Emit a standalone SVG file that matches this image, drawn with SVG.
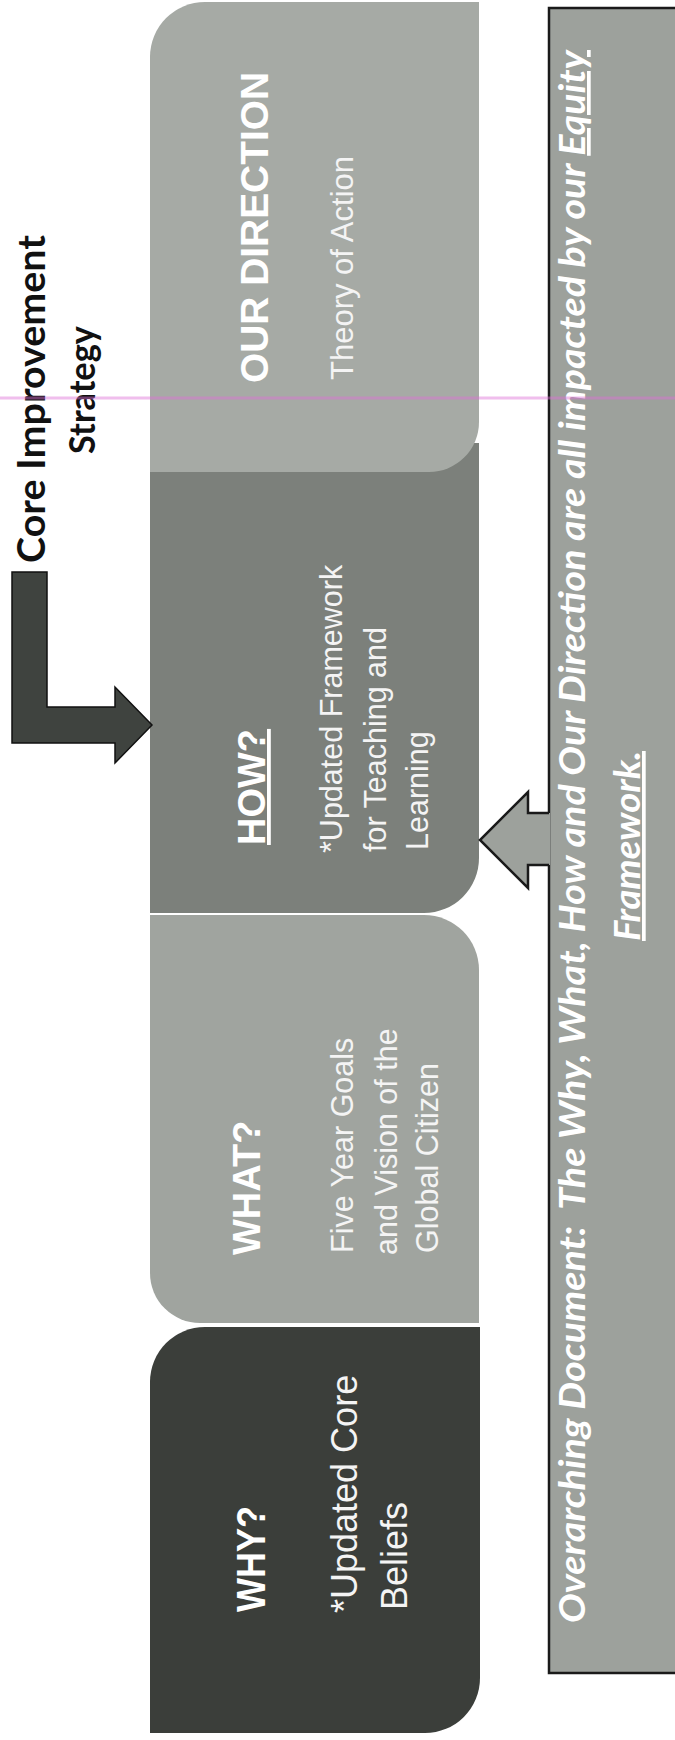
<svg xmlns="http://www.w3.org/2000/svg" width="675" height="1740" viewBox="0 0 675 1740">
<style>
.head{font-family:"Liberation Sans",Arial,sans-serif;font-weight:bold;fill:#ffffff}
.body{font-family:"Liberation Sans",Arial,sans-serif;fill:#f4f4f4}
.cal{font-family:Lato,"Open Sans",sans-serif;font-weight:bold;fill:#111111}
.over{font-family:Lato,"Open Sans",sans-serif;font-weight:bold;font-style:italic;fill:#ffffff;font-size:37px}
.ul{text-decoration:underline}
</style>
<rect x="0" y="0" width="675" height="1740" fill="#ffffff"/>

<g id="node-overarching">
  <rect x="549" y="8" width="140" height="1665" fill="#9da19c" stroke="#1a1a1a" stroke-width="2.5"/>
  <text class="over" transform="translate(585,1623) rotate(-90)" textLength="1573" lengthAdjust="spacingAndGlyphs">Overarching Document:&#160; The Why, What, How and Our Direction are all impacted by our <tspan class="ul">Equity</tspan></text>
  <text class="over ul" transform="translate(640,846) rotate(-90)" text-anchor="middle" textLength="190" lengthAdjust="spacingAndGlyphs">Framework.</text>
</g>

<g id="node-how">
  <path d="M150,443 H479 V858 A55,55 0 0 1 424,913 H150 Z" fill="#7c807b"/>
  <text class="head ul" font-size="38" transform="translate(265,845) rotate(-90)">HOW?</text>
  <text class="body" font-size="30.5" transform="translate(342,853) rotate(-90)">*Updated Framework</text>
  <text class="body" font-size="30.5" transform="translate(386,852) rotate(-90)">for Teaching and</text>
  <text class="body" font-size="30.5" transform="translate(428,850) rotate(-90)">Learning</text>
</g>

<g id="node-our-direction">
  <path d="M150,57 A55,55 0 0 1 205,2 H479 V422 A50,50 0 0 1 429,472 H150 Z" fill="#a6aaa5"/>
  <text class="head" font-size="38" transform="translate(268,383) rotate(-90)" textLength="311" lengthAdjust="spacingAndGlyphs">OUR DIRECTION</text>
  <text class="body" font-size="31" transform="translate(353,380) rotate(-90)">Theory of Action</text>
</g>

<g id="node-what">
  <path d="M150,915 H424 A55,55 0 0 1 479,970 V1323 H200 A50,50 0 0 1 150,1273 Z" fill="#a0a49f"/>
  <text class="head" font-size="38" transform="translate(260,1255) rotate(-90)">WHAT?</text>
  <text class="body" font-size="30.5" transform="translate(353,1253) rotate(-90)">Five Year Goals</text>
  <text class="body" font-size="30.5" transform="translate(397,1255) rotate(-90)">and Vision of the</text>
  <text class="body" font-size="30.5" transform="translate(438,1253) rotate(-90)">Global Citizen</text>
</g>

<g id="node-why">
  <path d="M150,1382 A55,55 0 0 1 205,1327 H480 V1678 A55,55 0 0 1 425,1733 H150 Z" fill="#3b3e3a"/>
  <text class="head" font-size="40" transform="translate(265,1612) rotate(-90)" textLength="106" lengthAdjust="spacingAndGlyphs">WHY?</text>
  <text class="body" font-size="36" transform="translate(357,1613) rotate(-90)">*Updated Core</text>
  <text class="body" font-size="36" transform="translate(407,1610) rotate(-90)">Beliefs</text>
</g>

<g id="node-core-strategy">
  <text class="cal" font-size="39" transform="translate(45,563) rotate(-90)" textLength="328" lengthAdjust="spacingAndGlyphs">Core Improvement</text>
  <text class="cal" font-size="37" transform="translate(95,390) rotate(-90)" text-anchor="middle" textLength="128" lengthAdjust="spacingAndGlyphs">Strategy</text>
</g>

<g id="connectors">
  <path d="M12,572 H47 V707 H115 V687 L152,725 L115,763 V743 H12 Z" fill="#3f433f" stroke="#111111" stroke-width="1.5" stroke-linejoin="miter"/>
  <path d="M550,813 H528 V792 L480,840 L528,888 V865 H550 Z" fill="#9da19c"/>
  <path d="M549,813 H528 V792 L480,840 L528,888 V865 H549" fill="none" stroke="#1a1a1a" stroke-width="2.5" stroke-linejoin="miter"/>
</g>

<line x1="0" y1="398" x2="675" y2="398" stroke="#e070d8" stroke-width="3" opacity="0.45"/>
</svg>
